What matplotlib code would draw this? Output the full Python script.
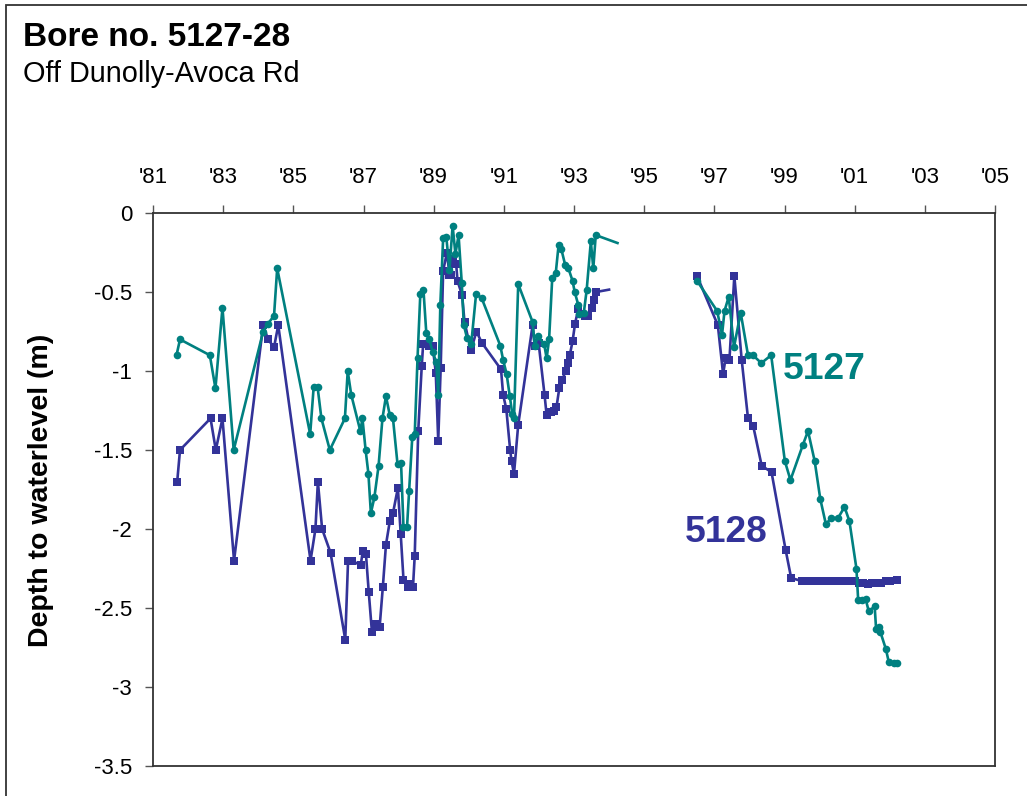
import numpy as np
import matplotlib
matplotlib.use("Agg")
import matplotlib.pyplot as plt
from matplotlib.patches import Rectangle

plt.rcParams['font.family'] = ['Liberation Sans', 'DejaVu Sans']
plt.rcParams['axes.unicode_minus'] = False

# ---------------- data ----------------
title = "Bore no. 5127-28"
subtitle = "Off Dunolly-Avoca Rd"
y_label = "Depth to waterlevel (m)"

tick_years = [1981, 1983, 1985, 1987, 1989, 1991, 1993, 1995, 1997, 1999, 2001, 2003, 2005]
tick_labels = ["'81", "'83", "'85", "'87", "'89", "'91", "'93", "'95", "'97", "'99", "'01", "'03", "'05"]
y_ticks = [0, -0.5, -1, -1.5, -2, -2.5, -3, -3.5]
y_tick_labels = ["0", "-0.5", "-1", "-1.5", "-2", "-2.5", "-3", "-3.5"]

# Bore 5128 (blue squares); NaN marks the gap in records
years_5128 = [
    1981.69, 1981.77, 1982.64, 1982.79, 1982.98, 1983.31, 1984.14, 1984.28, 1984.45, 1984.57,
    1985.49, 1985.63, 1985.70, 1985.82, 1986.06, 1986.48, 1986.56, 1986.67, 1986.92, 1986.98,
    1987.07, 1987.15, 1987.24, 1987.33, 1987.46, 1987.55, 1987.64, 1987.75, 1987.84, 1987.98,
    1988.06, 1988.14, 1988.26, 1988.33, 1988.41, 1988.46, 1988.56, 1988.66, 1988.70, 1988.86,
    1988.97, 1989.06, 1989.13, 1989.20, 1989.27, 1989.38, 1989.45, 1989.49, 1989.54, 1989.64,
    1989.68, 1989.81, 1989.88, 1990.06, 1990.22, 1990.37, 1990.92, 1990.98, 1991.07, 1991.18,
    1991.22, 1991.29, 1991.41, 1991.82, 1991.88, 1991.99, 1992.16, 1992.22, 1992.34, 1992.42,
    1992.50, 1992.58, 1992.65, 1992.77, 1992.84, 1992.88, 1992.96, 1993.03, 1993.12, 1993.19,
    1993.31, 1993.39, 1993.50, 1993.56, 1993.63, 1994.00,
    np.nan,
    1996.51, 1997.10, 1997.25, 1997.32, 1997.43, 1997.57, 1997.78, 1997.96, 1998.11, 1998.35,
    1998.63, 1999.03, 1999.19, 1999.50, 1999.62, 1999.75, 1999.88, 2000.00, 2000.12, 2000.25,
    2000.38, 2000.50, 2000.62, 2000.75, 2000.88, 2001.00, 2001.12, 2001.25, 2001.38, 2001.50,
    2001.62, 2001.75, 2001.88, 2002.00, 2002.20,
]
depth_5128 = [
    -1.70, -1.50, -1.30, -1.50, -1.30, -2.20, -0.71, -0.80, -0.85, -0.71,
    -2.20, -2.00, -1.70, -2.00, -2.15, -2.70, -2.20, -2.20, -2.23, -2.14,
    -2.16, -2.40, -2.65, -2.60, -2.62, -2.37, -2.10, -1.95, -1.90, -1.74,
    -2.03, -2.32, -2.37, -2.35, -2.37, -2.17, -1.38, -0.97, -0.83, -0.84,
    -0.84, -1.01, -1.44, -0.98, -0.365, -0.25, -0.39, -0.39, -0.29, -0.32,
    -0.43, -0.52, -0.69, -0.87, -0.75, -0.82, -0.99, -1.15, -1.24, -1.50,
    -1.57, -1.65, -1.34, -0.71, -0.84, -0.82, -1.15, -1.28, -1.26, -1.25,
    -1.23, -1.11, -1.06, -1.00, -0.95, -0.90, -0.81, -0.70, -0.61, -0.64,
    -0.65, -0.65, -0.60, -0.55, -0.50, -0.485,
    np.nan,
    -0.40, -0.71, -1.02, -0.92, -0.93, -0.40, -0.93, -1.30, -1.35, -1.60,
    -1.64, -2.13, -2.31, -2.33, -2.33, -2.33, -2.33, -2.33, -2.33, -2.33,
    -2.33, -2.33, -2.33, -2.33, -2.33, -2.33, -2.34, -2.34, -2.35, -2.34,
    -2.34, -2.34, -2.33, -2.33, -2.32,
]
unmarked_5128 = [1994.00]   # line runs on to this reading without a marker

# Bore 5127 (teal circles)
years_5127 = [
    1981.67, 1981.77, 1982.62, 1982.78, 1982.98, 1983.30, 1984.14, 1984.28, 1984.45, 1984.54,
    1985.48, 1985.58, 1985.69, 1985.80, 1986.04, 1986.47, 1986.55, 1986.65, 1986.91, 1986.97,
    1987.06, 1987.14, 1987.21, 1987.31, 1987.43, 1987.54, 1987.64, 1987.75, 1987.84, 1987.97,
    1988.07, 1988.14, 1988.24, 1988.30, 1988.39, 1988.46, 1988.54, 1988.62, 1988.71, 1988.79,
    1988.88, 1988.97, 1989.07, 1989.13, 1989.19, 1989.27, 1989.36, 1989.45, 1989.54, 1989.62,
    1989.71, 1989.80, 1989.86, 1989.95, 1990.07, 1990.21, 1990.37, 1990.90, 1990.98, 1991.08,
    1991.17, 1991.24, 1991.29, 1991.41, 1991.82, 1991.88, 1991.97, 1992.15, 1992.22, 1992.29,
    1992.38, 1992.48, 1992.56, 1992.64, 1992.75, 1992.84, 1992.96, 1993.02, 1993.12, 1993.15,
    1993.28, 1993.36, 1993.48, 1993.55, 1993.62, 1994.24,
    np.nan,
    1996.51, 1997.08, 1997.22, 1997.29, 1997.41, 1997.56, 1997.75, 1997.96, 1998.10, 1998.34,
    1998.62, 1999.01, 1999.17, 1999.52, 1999.67, 1999.86, 2000.02, 2000.18, 2000.33, 2000.53,
    2000.71, 2000.85, 2001.05, 2001.10, 2001.21, 2001.31, 2001.40, 2001.57, 2001.61, 2001.69,
    2001.73, 2001.89, 2001.97, 2002.11, 2002.20,
]
depth_5127 = [
    -0.90, -0.80, -0.90, -1.11, -0.60, -1.50, -0.75, -0.70, -0.65, -0.35,
    -1.40, -1.10, -1.10, -1.30, -1.50, -1.30, -1.00, -1.15, -1.38, -1.30,
    -1.50, -1.65, -1.90, -1.80, -1.60, -1.30, -1.16, -1.28, -1.30, -1.59,
    -1.58, -1.99, -1.99, -1.76, -1.42, -1.40, -0.92, -0.51, -0.49, -0.76,
    -0.80, -0.88, -0.94, -1.15, -0.58, -0.16, -0.15, -0.36, -0.08, -0.26,
    -0.14, -0.44, -0.71, -0.79, -0.83, -0.51, -0.54, -0.84, -0.93, -1.02,
    -1.16, -1.27, -1.30, -0.45, -0.69, -0.84, -0.78, -0.83, -0.92, -0.80,
    -0.41, -0.38, -0.205, -0.23, -0.33, -0.35, -0.43, -0.50, -0.58, -0.64,
    -0.63, -0.49, -0.18, -0.35, -0.14, -0.19,
    np.nan,
    -0.43, -0.62, -0.77, -0.62, -0.53, -0.85, -0.63, -0.90, -0.90, -0.95,
    -0.90, -1.57, -1.69, -1.47, -1.38, -1.57, -1.81, -1.97, -1.93, -1.93,
    -1.86, -1.95, -2.25, -2.45, -2.45, -2.44, -2.52, -2.49, -2.63, -2.62,
    -2.65, -2.76, -2.84, -2.85, -2.85,
]
unmarked_5127 = [1994.24]

series_names = ["5127", "5128"]
teal = "#008080"
blue = "#333399"

# ---------------- figure ----------------
W, H = 1027, 796
fig = plt.figure(figsize=(W / 100, H / 100), dpi=100)
ax = fig.add_axes([153 / W, 1 - 766 / H, (995 - 153) / W, (766 - 213) / H])

# outer frame
fig.patches.append(Rectangle((6 / W, -0.02), 1.1, 1 - 5 / H + 0.02, transform=fig.transFigure,
                             fill=False, edgecolor="#333333", linewidth=1.3, zorder=0))


def draw(years, depth, unmarked, color, marker, ms, z):
    x = np.array(years, dtype=float)
    y = np.array(depth, dtype=float)
    ax.plot(x, y, color=color, linewidth=1.9, zorder=z, solid_joinstyle="round")
    keep = ~np.isnan(x) & ~np.isin(x, unmarked)
    ax.plot(x[keep], y[keep], linestyle="none", marker=marker, markersize=ms,
            color=color, markeredgewidth=0, zorder=z + 0.1)


draw(years_5128, depth_5128, unmarked_5128, blue, "s", 5.5, 3)
draw(years_5127, depth_5127, unmarked_5127, teal, "o", 5.5, 4)

ax.set_xlim(1981, 2005)
ax.set_ylim(-3.5, 0)
ax.set_xticks(tick_years)
ax.set_xticklabels(tick_labels)
ax.set_yticks(y_ticks)
ax.set_yticklabels(y_tick_labels)
ax.xaxis.tick_top()
ax.tick_params(axis="x", direction="out", length=6, width=1, color="#555555",
               labelsize=16, pad=12)
ax.tick_params(axis="y", direction="out", length=6, width=1, color="#555555",
               labelsize=16, pad=9)
for s in ax.spines.values():
    s.set_color("#333333")
    s.set_linewidth(1.3)

ax.set_ylabel(y_label, fontsize=20.5, fontweight="bold")
ax.yaxis.set_label_coords(-(153 - 54) / (995 - 153), 0.5 - (490 - 489.5) / 553)

# series labels
ax.text(1998.96, -0.99, series_names[0], color=teal, fontsize=26.8, fontweight="bold",
        ha="left", va="center")
ax.text(1996.17, -2.025, series_names[1], color=blue, fontsize=26.8, fontweight="bold",
        ha="left", va="center")

# titles
fig.text(23 / W, 1 - 46 / H, title, fontsize=24, fontweight="bold", ha="left", va="baseline")
fig.text(23 / W, 1 - 82 / H, subtitle, fontsize=20.8, ha="left", va="baseline")

fig.savefig("out.png", dpi=100)
